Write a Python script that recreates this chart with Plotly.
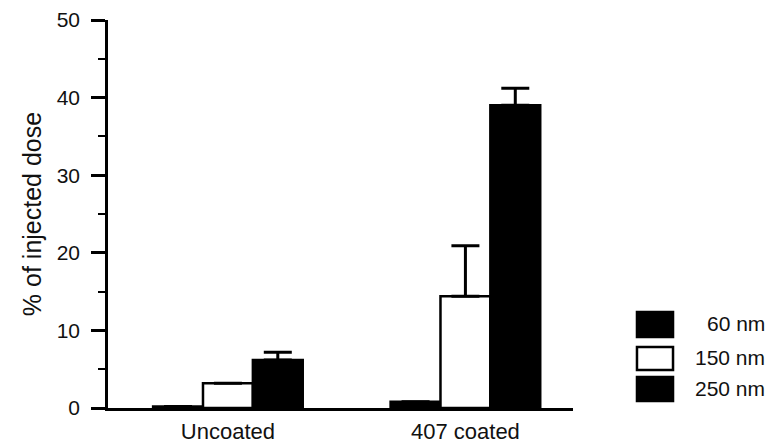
import plotly.graph_objects as go

groups = ["Uncoated", "407 coated"]
sizes = ["60 nm", "150 nm", "250 nm"]
values_60 = [0.2, 0.8]
values_150 = [3.2, 14.4]
values_250 = [6.2, 39.0]
err_60 = [None, None]
err_150 = [None, 6.5]
err_250 = [1.0, 2.2]
fills = ["black", "white", "black"]
y_ticks = [0, 10, 20, 30, 40, 50]

FONT = "Liberation Sans, Arial, sans-serif"
x_pos = list(range(len(groups)))

fig = go.Figure()
for name, vals, errs, col in zip(sizes, [values_60, values_150, values_250],
                                 [err_60, err_150, err_250], fills):
    fig.add_trace(go.Bar(
        x=x_pos, y=vals, name=name, showlegend=False,
        marker=dict(color=col, line=dict(color="black", width=2.5)),
        error_y=dict(type="data", symmetric=False, array=errs,
                     arrayminus=[0] * len(errs), color="black",
                     thickness=3, width=14, visible=True),
    ))

# custom legend with large swatches
legend_rows = [(0.2474, 0.183, 0.219), (0.157, 0.0979, 0.129), (0.0799, 0.018, 0.049)]
for name, col, (y0, y1, yc) in zip(sizes, fills, legend_rows):
    fig.add_shape(type="rect", xref="paper", yref="paper",
                  x0=1.1376, x1=1.2151, y0=y1, y1=y0,
                  fillcolor=col, line=dict(color="black", width=2.5))
    fig.add_annotation(xref="paper", yref="paper", x=1.417, y=yc,
                       text=name, showarrow=False, xanchor="right",
                       yanchor="middle", font=dict(family=FONT, size=21, color="#111"))

fig.update_layout(
    width=766, height=435,
    margin=dict(l=100, r=201, t=12, b=35, autoexpand=False),
    paper_bgcolor="white", plot_bgcolor="white",
    barmode="group", bargap=0.37, bargroupgap=0,
    showlegend=False,
    font=dict(family=FONT, color="#111"),
)
fig.update_xaxes(
    range=[-0.505, 1.453], tickvals=x_pos, ticktext=groups,
    showgrid=False, zeroline=False, showline=True, linecolor="black",
    linewidth=2.5, ticks="", tickfont=dict(size=22, family=FONT, color="#111"),
    ticklabelstandoff=2, automargin=False,
)
fig.update_yaxes(
    range=[0, 50], tickvals=y_ticks, showgrid=False, zeroline=False,
    showline=True, linecolor="black", linewidth=2.5,
    ticks="outside", ticklen=14, tickwidth=2.5, tickcolor="black",
    minor=dict(dtick=5, ticks="outside", ticklen=7, tickwidth=2, tickcolor="black"),
    tickfont=dict(size=21, family=FONT, color="#111"),
    ticklabelstandoff=7, automargin=False,
    title=dict(text="% of injected dose", font=dict(size=25, family=FONT, color="#111"),
               standoff=8),
)

fig.write_html("out.html")
